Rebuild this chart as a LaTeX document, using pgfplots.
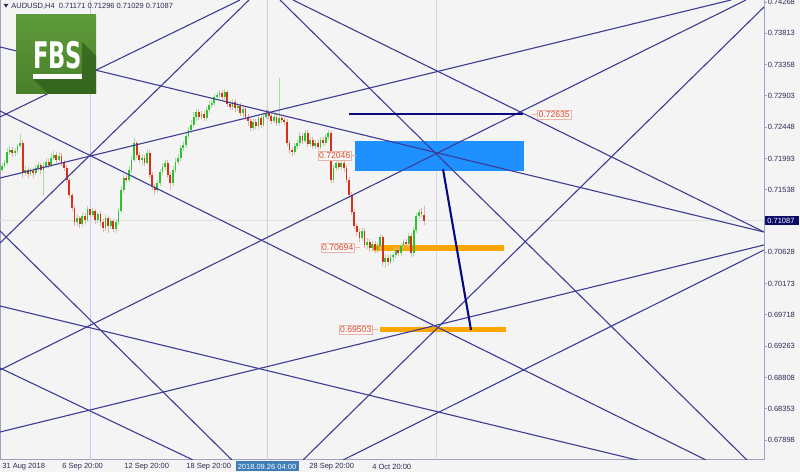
\documentclass[border=0pt]{standalone}
\usepackage{pgfplots}
\pgfplotsset{compat=1.18}
\usepackage{pgfplotstable}
\usepackage{fontspec}
\setmainfont{Liberation Sans}
\newfontfamily\logofont{DejaVu Sans Condensed}
\definecolor{bgc}{HTML}{F4F4F4}
\definecolor{tline}{HTML}{3C3C96}
\definecolor{navyl}{HTML}{0A0A80}
\definecolor{dodger}{HTML}{1E90FF}
\definecolor{orangeb}{HTML}{FFA500}
\definecolor{cgreen}{HTML}{2CC42C}
\definecolor{cred}{HTML}{D83018}
\definecolor{wgreen}{HTML}{A8DCA0}
\definecolor{wred}{HTML}{E8B0A8}
\definecolor{axc}{HTML}{A0A0C0}
\definecolor{lblc}{HTML}{2A2A55}
\definecolor{pricered}{HTML}{E04A2A}
\definecolor{pricebd}{HTML}{E8B4AC}
\definecolor{lg1}{HTML}{5E9B3A}
\definecolor{lg2}{HTML}{48802A}
\definecolor{lgs}{HTML}{2F5C1A}
\definecolor{steel}{HTML}{3F7DB8}
\definecolor{curbox}{HTML}{0C0C66}
\pgfplotstableread{
i o h l c
0 0.7182 0.7193 0.7180 0.7188
1 0.7188 0.7197 0.7185 0.7193
2 0.7193 0.7214 0.7190 0.7209
3 0.7209 0.7217 0.7204 0.7212
4 0.7212 0.7216 0.7201 0.7207
5 0.7207 0.7214 0.7203 0.7210
6 0.7210 0.7220 0.7206 0.7217
7 0.7217 0.7235 0.7214 0.7222
8 0.7222 0.7226 0.7171 0.7178
9 0.7178 0.7188 0.7174 0.7182
10 0.7182 0.7187 0.7171 0.7177
11 0.7177 0.7185 0.7174 0.7181
12 0.7181 0.7185 0.7171 0.7178
13 0.7178 0.7190 0.7175 0.7185
14 0.7185 0.7194 0.7181 0.7190
15 0.7190 0.7193 0.7177 0.7182
16 0.7182 0.7194 0.7145 0.7188
17 0.7188 0.7200 0.7185 0.7194
18 0.7194 0.7198 0.7185 0.7190
19 0.7190 0.7207 0.7187 0.7200
20 0.7200 0.7210 0.7197 0.7204
21 0.7204 0.7209 0.7193 0.7197
22 0.7197 0.7209 0.7194 0.7203
23 0.7203 0.7207 0.7188 0.7193
24 0.7193 0.7197 0.7181 0.7185
25 0.7185 0.7190 0.7164 0.7168
26 0.7168 0.7171 0.7142 0.7146
27 0.7146 0.7149 0.7123 0.7127
28 0.7127 0.7132 0.7101 0.7107
29 0.7107 0.7118 0.7101 0.7113
30 0.7113 0.7116 0.7098 0.7104
31 0.7104 0.7120 0.7100 0.7116
32 0.7116 0.7120 0.7104 0.7110
33 0.7110 0.7130 0.7107 0.7126
34 0.7126 0.7129 0.7113 0.7117
35 0.7117 0.7127 0.7114 0.7123
36 0.7123 0.7126 0.7104 0.7110
37 0.7110 0.7121 0.7105 0.7118
38 0.7118 0.7123 0.7101 0.7107
39 0.7107 0.7111 0.7092 0.7098
40 0.7098 0.7117 0.7094 0.7113
41 0.7113 0.7116 0.7091 0.7101
42 0.7101 0.7113 0.7097 0.7108
43 0.7108 0.7111 0.7092 0.7097
44 0.7097 0.7111 0.7091 0.7107
45 0.7107 0.7127 0.7102 0.7123
46 0.7123 0.7159 0.7120 0.7153
47 0.7153 0.7177 0.7149 0.7171
48 0.7171 0.7175 0.7164 0.7168
49 0.7168 0.7188 0.7165 0.7182
50 0.7182 0.7203 0.7178 0.7197
51 0.7197 0.7229 0.7194 0.7222
52 0.7222 0.7225 0.7200 0.7204
53 0.7204 0.7209 0.7193 0.7197
54 0.7197 0.7206 0.7190 0.7200
55 0.7200 0.7204 0.7188 0.7193
56 0.7193 0.7213 0.7190 0.7207
57 0.7207 0.7212 0.7171 0.7175
58 0.7175 0.7180 0.7153 0.7158
59 0.7158 0.7162 0.7146 0.7153
60 0.7153 0.7168 0.7149 0.7164
61 0.7164 0.7184 0.7159 0.7180
62 0.7180 0.7193 0.7175 0.7187
63 0.7187 0.7197 0.7182 0.7193
64 0.7193 0.7197 0.7171 0.7175
65 0.7175 0.7180 0.7153 0.7164
66 0.7164 0.7188 0.7159 0.7182
67 0.7182 0.7200 0.7178 0.7194
68 0.7194 0.7206 0.7190 0.7200
69 0.7200 0.7219 0.7196 0.7214
70 0.7214 0.7225 0.7210 0.7219
71 0.7219 0.7238 0.7214 0.7232
72 0.7232 0.7245 0.7228 0.7241
73 0.7241 0.7255 0.7236 0.7248
74 0.7248 0.7267 0.7244 0.7260
75 0.7260 0.7271 0.7254 0.7267
76 0.7267 0.7271 0.7255 0.7260
77 0.7260 0.7268 0.7255 0.7264
78 0.7264 0.7268 0.7254 0.7258
79 0.7258 0.7274 0.7254 0.7270
80 0.7270 0.7283 0.7265 0.7277
81 0.7277 0.7284 0.7273 0.7280
82 0.7280 0.7293 0.7276 0.7289
83 0.7289 0.7296 0.7284 0.7292
84 0.7292 0.7299 0.7287 0.7294
85 0.7294 0.7299 0.7284 0.7289
86 0.7289 0.7300 0.7284 0.7296
87 0.7296 0.7299 0.7274 0.7278
88 0.7278 0.7283 0.7270 0.7274
89 0.7274 0.7286 0.7270 0.7281
90 0.7281 0.7286 0.7267 0.7273
91 0.7273 0.7280 0.7268 0.7276
92 0.7276 0.7280 0.7261 0.7265
93 0.7265 0.7276 0.7260 0.7271
94 0.7271 0.7276 0.7255 0.7260
95 0.7260 0.7264 0.7246 0.7254
96 0.7254 0.7258 0.7239 0.7244
97 0.7244 0.7257 0.7239 0.7252
98 0.7252 0.7257 0.7242 0.7246
99 0.7246 0.7262 0.7242 0.7258
100 0.7258 0.7261 0.7244 0.7248
101 0.7248 0.7264 0.7245 0.7260
102 0.7260 0.7271 0.7257 0.7265
103 0.7265 0.7270 0.7257 0.7261
104 0.7261 0.7265 0.7249 0.7254
105 0.7254 0.7264 0.7251 0.7260
106 0.7260 0.7264 0.7246 0.7251
107 0.7251 0.7316 0.7248 0.7258
108 0.7258 0.7262 0.7251 0.7255
109 0.7255 0.7260 0.7248 0.7252
110 0.7252 0.7257 0.7217 0.7222
111 0.7222 0.7226 0.7206 0.7212
112 0.7212 0.7216 0.7203 0.7209
113 0.7209 0.7222 0.7204 0.7217
114 0.7217 0.7226 0.7213 0.7222
115 0.7222 0.7238 0.7217 0.7232
116 0.7232 0.7236 0.7220 0.7225
117 0.7225 0.7241 0.7222 0.7236
118 0.7236 0.7241 0.7216 0.7220
119 0.7220 0.7230 0.7216 0.7226
120 0.7226 0.7230 0.7213 0.7217
121 0.7217 0.7226 0.7213 0.7222
122 0.7222 0.7226 0.7212 0.7216
123 0.7216 0.7230 0.7213 0.7226
124 0.7226 0.7230 0.7217 0.7222
125 0.7222 0.7235 0.7219 0.7230
126 0.7230 0.7241 0.7226 0.7236
127 0.7236 0.7239 0.7164 0.7168
128 0.7168 0.7190 0.7164 0.7185
129 0.7185 0.7200 0.7181 0.7193
130 0.7193 0.7197 0.7182 0.7187
131 0.7187 0.7197 0.7182 0.7193
132 0.7193 0.7212 0.7180 0.7185
133 0.7185 0.7190 0.7164 0.7168
134 0.7168 0.7172 0.7142 0.7146
135 0.7146 0.7150 0.7117 0.7121
136 0.7121 0.7126 0.7097 0.7101
137 0.7101 0.7105 0.7086 0.7092
138 0.7092 0.7097 0.7078 0.7084
139 0.7084 0.7098 0.7079 0.7094
140 0.7094 0.7098 0.7069 0.7073
141 0.7073 0.7084 0.7068 0.7078
142 0.7078 0.7082 0.7063 0.7069
143 0.7069 0.7079 0.7065 0.7075
144 0.7075 0.7079 0.7062 0.7066
145 0.7066 0.7076 0.7062 0.7072
146 0.7072 0.7089 0.7066 0.7085
147 0.7085 0.7088 0.7043 0.7049
148 0.7049 0.7059 0.7040 0.7054
149 0.7054 0.7059 0.7043 0.7049
150 0.7049 0.7060 0.7046 0.7056
151 0.7056 0.7063 0.7049 0.7059
152 0.7059 0.7070 0.7054 0.7066
153 0.7066 0.7070 0.7057 0.7062
154 0.7062 0.7076 0.7057 0.7072
155 0.7072 0.7082 0.7068 0.7078
156 0.7078 0.7082 0.7070 0.7075
157 0.7075 0.7091 0.7070 0.7086
158 0.7086 0.7091 0.7056 0.7062
159 0.7062 0.7100 0.7057 0.7095
160 0.7095 0.7120 0.7091 0.7116
161 0.7116 0.7126 0.7111 0.7121
162 0.7121 0.7127 0.7114 0.7118
163 0.71171 0.71296 0.71029 0.71087
}\candles
\newcommand{\fs}[1]{\fontsize{#1}{#1}\selectfont}
\begin{document}
\begin{tikzpicture}
\useasboundingbox (0pt,-6pt) rectangle (400pt,230pt);
\fill[bgc] (0pt,-6pt) rectangle (400pt,230pt);
\begin{axis}[
  at={(0pt,0pt)}, anchor=south west,
  scale only axis, width=382pt, height=230pt,
  xmin=-0.772, xmax=294.21, ymin=0.67607, ymax=0.74297,
  axis background/.style={fill=bgc},
  axis line style={draw=axc, line width=0.5pt},
  xtick=\empty,
  ytick={0.74268,0.73813,0.73358,0.72903,0.72448,0.71993,0.71538,0.70628,0.70173,0.69718,0.69263,0.68808,0.68353,0.67898},
  yticklabels={0.74268,0.73813,0.73358,0.72903,0.72448,0.71993,0.71538,0.70628,0.70173,0.69718,0.69263,0.68808,0.68353,0.67898},
  ytick pos=right, yticklabel pos=right,
  tick align=outside, major tick length=1.5pt,
  ytick style={draw=axc, line width=0.4pt},
  yticklabel style={font=\fs{3.75pt}, text=lblc, anchor=west, inner sep=0pt, xshift=0.2pt},
  clip=true,
  candle/.style={draw=none, mark=none, error bars/.cd, y dir=both, y explicit, error mark=none},
]
% light vertical / horizontal guide lines
\addplot[color=black!12, line width=0.4pt] coordinates {(-0.772,0.71087) (294.21,0.71087)};
\addplot[color=blue!22, line width=0.5pt] coordinates {(33.98,0.67607) (33.98,0.74297)};
\addplot[color=black!18, line width=0.5pt] coordinates {(102.32,0.67607) (102.32,0.74297)};
\addplot[color=black!16, line width=0.5pt] coordinates {(167.95,0.67607) (167.95,0.74297)};
% rectangle and orange levels
\addplot[fill=dodger, draw=none] coordinates {(136.29,0.71810) (201.54,0.71810) (201.54,0.72247) (136.29,0.72247)} -- cycle;
\addplot[orangeb, line width=3pt] coordinates {(143.24,0.70694) (193.82,0.70694)};
\addplot[orangeb, line width=2.6pt] coordinates {(145.95,0.69503) (194.59,0.69503)};
% candles: wicks
\addplot[candle, error bar style={line width=0.35pt, draw=wgreen}]
  table[x=i, y expr={\thisrow{c}>\thisrow{o} ? 0.5*(\thisrow{h}+\thisrow{l}) : nan},
        y error expr={0.5*(\thisrow{h}-\thisrow{l})}] {\candles};
\addplot[candle, error bar style={line width=0.35pt, draw=wred}]
  table[x=i, y expr={\thisrow{c}<\thisrow{o} ? 0.5*(\thisrow{h}+\thisrow{l}) : nan},
        y error expr={0.5*(\thisrow{h}-\thisrow{l})}] {\candles};
% candles: bodies
\addplot[candle, error bar style={line width=0.9pt, draw=cgreen}]
  table[x=i, y expr={\thisrow{c}>\thisrow{o} ? 0.5*(\thisrow{o}+\thisrow{c}) : nan},
        y error expr={0.5*abs(\thisrow{c}-\thisrow{o})}] {\candles};
\addplot[candle, error bar style={line width=0.9pt, draw=cred}]
  table[x=i, y expr={\thisrow{c}<\thisrow{o} ? 0.5*(\thisrow{o}+\thisrow{c}) : nan},
        y error expr={0.5*abs(\thisrow{c}-\thisrow{o})}] {\candles};
% fan / grid lines
\addplot[tline, line width=0.55pt] coordinates {(-0.772,0.73614) (294.21,0.70923)};
\addplot[tline, line width=0.55pt] coordinates {(-0.772,0.72596) (91.89,0.74297)};
\addplot[tline, line width=0.55pt] coordinates {(-0.772,0.71708) (281.47,0.74297)};
\addplot[tline, line width=0.55pt] coordinates {(-0.772,0.72683) (271.81,0.67607)};
\addplot[tline, line width=0.55pt] coordinates {(-0.772,0.68916) (287.26,0.74297)};
\addplot[tline, line width=0.55pt] coordinates {(-0.772,0.68014) (294.21,0.70734)};
\addplot[tline, line width=0.55pt] coordinates {(116.22,0.67607) (294.21,0.74195)};
\addplot[tline, line width=0.55pt] coordinates {(-0.772,0.69847) (245.17,0.67607)};
\addplot[tline, line width=0.55pt] coordinates {(131.66,0.67607) (294.21,0.70661)};
\addplot[tline, line width=0.55pt] coordinates {(107.34,0.74297) (287.64,0.67607)};
\addplot[tline, line width=0.55pt] coordinates {(112.36,0.74297) (294.21,0.70923)};
\addplot[tline, line width=0.55pt] coordinates {(-0.772,0.70763) (95.37,0.74297)};
\addplot[tline, line width=0.55pt] coordinates {(-0.772,0.70938) (88.80,0.67607)};
\addplot[tline, line width=0.55pt] coordinates {(-0.772,0.68945) (73.75,0.67607)};
% navy lines
\addplot[navyl, line width=1.05pt] coordinates {(133.98,0.72635) (201.16,0.72635)};
\addplot[navyl, line width=1.05pt] coordinates {(170.27,0.71839) (181.08,0.69498)};
\end{axis}
% decorations in pixel coordinates
\begin{scope}[x=0.5pt, y=-0.5pt, shift={(0pt,230pt)}]
  % header
  \fill[lblc] (3.5,3.8) -- (8.5,3.8) -- (6,7.6) -- cycle;
  \node[anchor=west, inner sep=0pt, text=lblc, font=\fs{3.75pt}] at (11,6.3) {AUDUSD,H4\ \ 0.71171 0.71296 0.71029 0.71087};
  % logo
  \shade[top color=lg1, bottom color=lg2] (16,15) rectangle (96,94);
  \fill[lgs, opacity=0.7] (82,42) -- (96,56) -- (96,94) -- (48,94) -- (33,79) -- (82,79) -- cycle;
  \node[inner sep=0pt, text=white] at (57.5,55.2) {\resizebox{24.5pt}{13.6pt}{\logofont\bfseries FBS}};
  \fill[white] (33,74.5) rectangle (82,79);
  % price labels
  \draw[pricebd, line width=0.3pt] (352,155) -- (356,155);
  \node[anchor=east, fill=bgc!60!white, draw=pricebd, line width=0.3pt, inner sep=0.7pt, text=pricered, font=\fs{4.3pt}] at (352,155.5) {0.72046};
  \draw[pricebd, line width=0.3pt] (355,247) -- (360,247);
  \node[anchor=east, fill=bgc!60!white, draw=pricebd, line width=0.3pt, inner sep=0.7pt, text=pricered, font=\fs{4.3pt}] at (355,247.5) {0.70694};
  \draw[pricebd, line width=0.3pt] (373,329) -- (378,329);
  \node[anchor=east, fill=bgc!60!white, draw=pricebd, line width=0.3pt, inner sep=0.7pt, text=pricered, font=\fs{4.3pt}] at (373,329.5) {0.69503};
  \draw[pricebd, line width=0.3pt] (532,114) -- (537,114);
  \node[anchor=west, fill=bgc!60!white, draw=pricebd, line width=0.3pt, inner sep=0.7pt, text=pricered, font=\fs{4.3pt}] at (537,114.5) {0.72635};
  % current price box
  \fill[curbox] (764.5,216) rectangle (799,225.5);
  \node[anchor=west, inner sep=0pt, text=white, font=\fs{3.75pt}] at (767,220.9) {0.71087};
  % time axis
  \node[anchor=west, inner sep=0pt, text=lblc, font=\fs{3.75pt}] at (2,466.5) {31 Aug 2018};
  \node[anchor=west, inner sep=0pt, text=lblc, font=\fs{3.75pt}] at (62,466.5) {6 Sep 20:00};
  \node[anchor=west, inner sep=0pt, text=lblc, font=\fs{3.75pt}] at (124,466.5) {12 Sep 20:00};
  \node[anchor=west, inner sep=0pt, text=lblc, font=\fs{3.75pt}] at (186,466.5) {18 Sep 20:00};
  \fill[steel] (235.5,461.5) rectangle (298.5,471.5);
  \node[inner sep=0pt, text=white, font=\fs{3.75pt}] at (267,466.5) {2018.09.26 04:00};
  \node[anchor=west, inner sep=0pt, text=lblc, font=\fs{3.75pt}] at (309,466.5) {28 Sep 20:00};
  \node[anchor=west, inner sep=0pt, text=lblc, font=\fs{3.75pt}] at (372,466.5) {4 Oct 20:00};
\end{scope}
\end{tikzpicture}
\end{document}
